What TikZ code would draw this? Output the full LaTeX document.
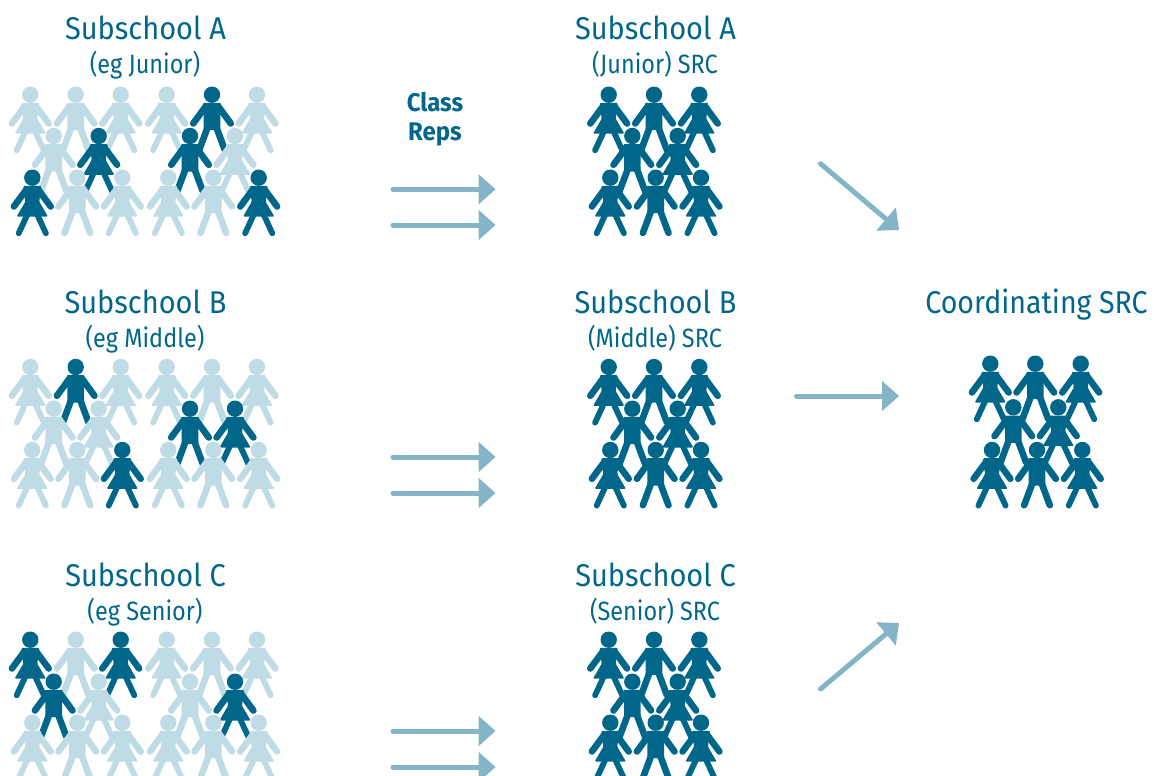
\documentclass[tikz,border=0pt]{standalone}
\usepackage{fontspec}
\usepackage{graphicx}
\setmainfont{Fira Sans}
\usetikzlibrary{calc}
\definecolor{dk}{HTML}{00678A}
\definecolor{lt}{HTML}{BFDBE5}
\definecolor{arr}{HTML}{84B4C7}
\newcommand{\bigt}[1]{\scalebox{.92}[1]{\fontsize{31.5}{31.5}\selectfont #1}}
\newcommand{\smallt}[1]{\scalebox{.885}[1]{\fontsize{26.5}{26.5}\selectfont #1}}
\newcommand{\repst}[1]{\scalebox{.94}[1]{\fontsize{25.5}{25.5}\selectfont\bfseries #1}}
\tikzset{
  x=1pt,y=-1pt,
  limb/.style={line width=6.6pt,line cap=round},
  lab/.style={text=dk,inner sep=0pt,anchor=base},
  shaft/.style={draw=arr,line width=5pt,line cap=round},
  pics/girl/.style={code={
    \fill[#1] (0,0) circle[radius=8.2];
    \draw[#1,limb,line width=5.8pt] (-5,37) -- (-13.6,55.6) (5,37) -- (13.6,55.6);
    \draw[#1,limb] (-6,12) -- (-18.4,28.8) (6,12) -- (18.4,28.8);
    \fill[#1,rounded corners=1pt] (-9,8.2) -- (9,8.2) -- (7,24) -- (15.6,38.8) -- (-15.6,38.8) -- (-7,24) -- cycle;
  }},
  pics/boy/.style={code={
    \fill[#1] (0,0) circle[radius=8.2];
    \draw[#1,limb,line width=6.6pt] (-4.5,33) -- (-12.8,55.2) (4.5,33) -- (12.8,55.2);
    \draw[#1,limb] (-6.5,12) -- (-18.8,28.8) (6.5,12) -- (18.8,28.8);
    \fill[#1,rounded corners=1pt] (-9,8.2) -- (9,8.2) -- (8.3,20) -- (8.3,35.5) -- (-8.3,35.5) -- (-8.3,20) -- cycle;
  }},
}
\newcommand{\figrow}[1]{\foreach \px/\py/\pk/\pc in {#1}{\pic at (\px,\py) {\pk=\pc};}}
\newcommand{\flowarrow}[2]{%
  \draw[shaft] (#1) -- ($(#2)!16pt!(#1)$);
  \fill[arr] (#2) -- ($(#2)!17pt!(#1)!15.2pt!90:(#2)$) -- ($(#2)!17pt!(#1)!15.2pt!-90:(#2)$) -- cycle;}
\begin{document}
\begin{tikzpicture}
\clip (0,0) rectangle (1154,776);
% block A left
\figrow{30.3/94.7/girl/lt,75.7/94.7/boy/lt,120.7/94.7/girl/lt,166.7/94.7/girl/lt,212/94.7/boy/dk,257/94.7/girl/lt}
\figrow{53.7/136/boy/lt,98.7/136/girl/dk,190/136/boy/dk,235/136/girl/lt}
\figrow{32.3/177.7/girl/dk,77.3/177.7/boy/lt,122.3/177.7/girl/lt,168.3/177.7/girl/lt,213.3/177.7/boy/lt,258.7/177.7/girl/dk}
% block B left
\figrow{30.3/367/girl/lt,75.7/367/boy/dk,120.7/367/girl/lt,166.7/367/girl/lt,212/367/boy/lt,257/367/girl/lt}
\figrow{53.7/408.7/boy/lt,98.7/408.7/girl/lt,190/408.7/boy/dk,235/408.7/girl/dk}
\figrow{32.3/450/girl/lt,77.3/450/boy/lt,122.3/450/girl/dk,168.3/450/girl/lt,213.3/450/boy/lt,258.7/450/girl/lt}
% block C left
\figrow{30.3/639.7/girl/dk,75.7/639.7/boy/lt,120.7/639.7/girl/dk,166.7/639.7/girl/lt,212/639.7/boy/lt,257/639.7/girl/lt}
\figrow{53.7/681.7/boy/dk,98.7/681.7/girl/lt,190/681.7/boy/lt,235/681.7/girl/dk}
\figrow{32.3/722.7/girl/lt,77.3/722.7/boy/lt,122.3/722.7/girl/lt,168.3/722.7/girl/lt,213.3/722.7/boy/lt,258.7/722.7/girl/lt}
% middle blocks
\foreach \a/\b/\c in {94.7/136/177.7,367/408.7/450,639.7/681.7/722.7}{
  \figrow{608.7/\a/girl/dk,654/\a/boy/dk,699.3/\a/girl/dk}
  \figrow{632.3/\b/boy/dk,677.7/\b/girl/dk}
  \figrow{610.3/\c/girl/dk,655.7/\c/boy/dk,701/\c/girl/dk}
}
% coordinating block
\figrow{990.3/363.7/girl/dk,1035.3/363.7/boy/dk,1080.7/363.7/girl/dk}
\figrow{1013.3/407.3/boy/dk,1058.3/407.3/girl/dk}
\figrow{992/450/girl/dk,1037/450/boy/dk,1082.3/450/girl/dk}
% labels
\node[lab] (la1) at (145.5,39.5) {\bigt{Subschool A}};
\node[lab] (la2) at (145,73.8) {\smallt{(eg Junior)}};
\node[lab] (lb1) at (145.5,313) {\bigt{Subschool B}};
\node[lab] (lb2) at (145,347.3) {\smallt{(eg Middle)}};
\node[lab] (lc1) at (145.5,586.5) {\bigt{Subschool C}};
\node[lab] (lc2) at (145,620.8) {\smallt{(eg Senior)}};
\node[lab] (ma1) at (655.5,39.5) {\bigt{Subschool A}};
\node[lab] (ma2) at (655,73.8) {\smallt{(Junior) SRC}};
\node[lab] (mb1) at (655.5,313) {\bigt{Subschool B}};
\node[lab] (mb2) at (655,347.3) {\smallt{(Middle) SRC}};
\node[lab] (mc1) at (655.5,586.5) {\bigt{Subschool C}};
\node[lab] (mc2) at (655,620.8) {\smallt{(Senior) SRC}};
\node[lab] (co) at (1036.5,313) {\scalebox{.985}[1]{\bigt{Coordinating SRC}}};
\node[lab] (r1) at (435,111.5) {\repst{Class}};
\node[lab] (r2) at (435,140.5) {\repst{Reps}};
% arrows
\foreach \n/\y in {a/189.3,b/225,c/457,d/493,e/731,f/767}{
  \coordinate (s\n) at (393,\y);
  \coordinate (t\n) at (495.5,\y);
  \flowarrow{s\n}{t\n}
}
\coordinate (d1s) at (820.5,163.7); \coordinate (d1t) at (899,230);
\coordinate (d2s) at (796.5,396); \coordinate (d2t) at (899,396);
\coordinate (d3s) at (820.5,689); \coordinate (d3t) at (899,623);
\flowarrow{d1s}{d1t}
\flowarrow{d2s}{d2t}
\flowarrow{d3s}{d3t}
\end{tikzpicture}
\end{document}
